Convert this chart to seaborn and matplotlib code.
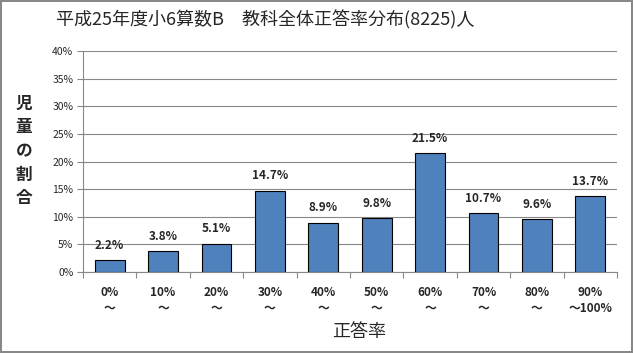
import matplotlib
matplotlib.use('Agg')
import matplotlib.pyplot as plt
import seaborn as sns
import pandas as pd
import numpy as np
from matplotlib.ticker import FixedLocator, FuncFormatter

labels = ['0%\n～', '10%\n～', '20%\n～', '30%\n～', '40%\n～',
          '50%\n～', '60%\n～', '70%\n～', '80%\n～', '90%\n～100%']
rates = [2.2, 3.8, 5.1, 14.7, 8.9, 9.8, 21.5, 10.7, 9.6, 13.7]
title = '平成25年度小6算数B　教科全体正答率分布(8225)人'

sns.set_style('white')
plt.rcParams['font.family'] = ['Noto Sans CJK JP', 'DejaVu Sans']

df = pd.DataFrame({'band': labels, 'rate': rates})

fig = plt.figure(figsize=(6.33, 3.53), dpi=100)
fig.patch.set_edgecolor('#888888')
fig.patch.set_linewidth(1.5)
ax = fig.add_axes([83/633, 1-272/353, 534/633, 221/353])

sns.barplot(data=df, x='band', y='rate', color='#4F81BD', saturation=1,
            edgecolor='black', linewidth=0.8, width=0.56, ax=ax, zorder=3)
ax.bar_label(ax.containers[0], labels=[f'{v}%' for v in rates], padding=6,
             fontsize=8.5, fontweight='bold')

ax.set_ylim(0, 40)
ax.set_xlim(-0.5, 9.5)
ax.set_yticks(np.arange(0, 41, 5))
ax.yaxis.set_major_formatter(FuncFormatter(lambda v, p: f'{int(v)}%'))
ax.tick_params(axis='y', labelsize=7.5, length=4, color='#888888', pad=3, left=True)
ax.grid(axis='y', color='#888888', linewidth=0.8, zorder=0)

ax.xaxis.set_major_locator(FixedLocator(np.arange(-0.5, 10, 1)))
ax.xaxis.set_minor_locator(FixedLocator(np.arange(0, 10, 1)))
ax.set_xticklabels([], minor=False)
ax.set_xticklabels(labels, minor=True, fontsize=8.5, fontweight='bold', linespacing=1.3)
ax.tick_params(axis='x', which='major', length=4, color='#888888', bottom=True)
ax.tick_params(axis='x', which='minor', length=0, pad=10)

for s in ['top', 'right']:
    ax.spines[s].set_visible(False)
for s in ['left', 'bottom']:
    ax.spines[s].set_color('#888888')

ax.set_xlabel('')
ax.set_ylabel('')
fig.text(359/633, 1-332/353, '正答率', ha='center', va='center', fontsize=13)
fig.text(24/633, 1-151/353, '児\n童\nの\n割\n合', ha='center', va='center',
         fontsize=12, fontweight='bold', linespacing=1.4)
fig.text(265/633, 1-20/353, title, ha='center', va='center', fontsize=13)

fig.savefig('out.png', dpi=100)
